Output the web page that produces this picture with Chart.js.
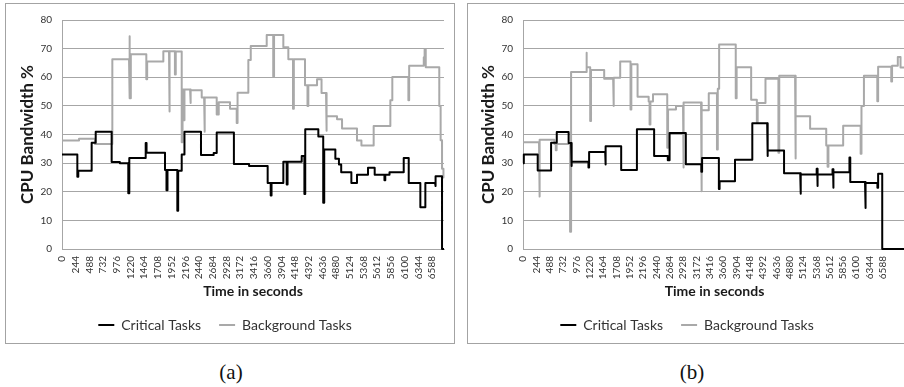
<!DOCTYPE html>
<html>
<head>
<meta charset="utf-8">
<script src="https://cdn.jsdelivr.net/npm/chart.js@4.4.1/dist/chart.umd.min.js"></script>
<style>
  html, body { margin: 0; padding: 0; background: #fff; }
  body { width: 904px; height: 387px; overflow: hidden; position: relative; }
  .panel { position: absolute; top: 3px; width: 448px; height: 339px; border: 1px solid #a3a3a3; }
  #panelA { left: 5px; }
  #panelB { left: 467px; }
  .caption { position: absolute; top: 359px; width: 60px; margin-left: -30px; text-align: center;
    font-family: "Liberation Serif", serif; font-size: 21px; line-height: 26px; color: #111; }
</style>
</head>
<body>
<div class="panel" id="panelA"><canvas id="chartA" width="448" height="339"></canvas></div>
<div class="panel" id="panelB"><canvas id="chartB" width="448" height="339"></canvas></div>
<div class="caption" style="left:231px">(a)</div>
<div class="caption" style="left:692px">(b)</div>
<script>
'use strict';

// tick labels on both axes
const timeTicks = [0, 244, 488, 732, 976, 1220, 1464, 1708, 1952, 2196, 2440, 2684, 2928, 3172,
  3416, 3660, 3904, 4148, 4392, 4636, 4880, 5124, 5368, 5612, 5856, 6100, 6344, 6588];
const bandwidthTicks = [0, 10, 20, 30, 40, 50, 60, 70, 80];

// panel (a): time (s) where each level starts, and the level (%)
const critTimesA = [0, 273, 290, 528, 600, 884, 1030, 1180, 1198, 1490,
  1505, 1834, 1860, 1878, 2053, 2068, 2131, 2180, 2474, 2700,
  2754, 3060, 3330, 3661, 3715, 3730, 3940, 4000, 4015, 4267,
  4315, 4330, 4563, 4650, 4668, 4866, 4930, 4970, 5151, 5251,
  5447, 5566, 5740, 5755, 5830, 6083, 6172, 6379, 6468, 6640,
  6655, 6765];
const critValuesA = [33.0, 25.2, 27.3, 37.1, 41.0, 30.4, 30.0, 19.5, 31.8, 37.0,
  33.6, 27.6, 20.5, 27.6, 13.4, 27.3, 33.0, 41.0, 32.8, 33.5,
  40.7, 29.7, 29.0, 23.1, 18.7, 23.1, 30.5, 22.5, 30.5, 32.5,
  19.2, 41.8, 39.3, 16.2, 34.8, 31.5, 29.5, 26.8, 23.1, 25.9,
  28.4, 25.9, 24.0, 25.9, 26.8, 31.8, 23.1, 14.6, 23.1, 22.0,
  25.4, 0];
const bgTimesA = [0, 303, 587, 896, 1193, 1210, 1225, 1501, 1516, 1804,
  1905, 1920, 2010, 2025, 2131, 2146, 2165, 2180, 2280, 2295,
  2487, 2530, 2545, 2754, 2790, 2991, 3110, 3125, 3317, 3360,
  3644, 3760, 3775, 3940, 4029, 4112, 4127, 4326, 4370, 4385,
  4540, 4620, 4700, 4715, 4896, 4985, 5251, 5330, 5548, 5845,
  5880, 6166, 6180, 6440, 6455, 6475, 6716, 6740, 6765, 6790];
const bgValuesA = [37.9, 38.5, 36.7, 66.3, 74.3, 52.7, 68.0, 59.3, 65.5, 69.1,
  48.0, 69.1, 61.0, 69.0, 37.3, 55.7, 45.0, 55.7, 51.0, 55.5,
  52.9, 41.0, 52.9, 47.0, 51.3, 49.0, 44.0, 54.6, 66.0, 70.9,
  74.8, 60.3, 74.8, 70.5, 66.3, 49.0, 66.3, 57.2, 50.0, 57.2,
  59.3, 54.5, 41.3, 46.4, 45.3, 42.1, 37.9, 36.2, 43.0, 52.0,
  60.1, 52.0, 64.0, 67.0, 69.7, 63.5, 50.0, 38.0, 28.0, 25.0];

// panel (b)
const critTimesB = [0, 15, 269, 514, 618, 835, 880, 895, 1198, 1210,
  1504, 1516, 1797, 2085, 2400, 2650, 2683, 2980, 3264, 3278,
  3585, 3598, 3880, 4197, 4469, 4483, 4778, 5074, 5088, 5375,
  5385, 5395, 5665, 5675, 5685, 5975, 5990, 6260, 6275, 6487,
  6500, 6575];
const critValuesB = [30.0, 33.0, 27.4, 37.1, 40.9, 37.0, 29.0, 30.5, 28.5, 33.9,
  29.5, 35.9, 27.6, 41.8, 32.5, 31.0, 40.5, 29.6, 27.0, 31.8,
  21.0, 23.7, 31.2, 43.9, 32.5, 34.4, 26.5, 19.3, 26.0, 28.0,
  22.0, 26.0, 27.9, 21.4, 26.8, 32.0, 23.4, 14.3, 23.1, 21.4,
  26.3, 0];
const bgTimesB = [0, 293, 310, 575, 600, 615, 862, 880, 1155, 1170,
  1230, 1245, 1486, 1650, 1665, 1779, 1968, 1983, 2097, 2300,
  2317, 2332, 2379, 2640, 2655, 2800, 2929, 2944, 3259, 3275,
  3400, 3550, 3565, 3590, 3894, 3910, 4176, 4280, 4295, 4438,
  4675, 4690, 4980, 4995, 5255, 5550, 5575, 5590, 5860, 6180,
  6195, 6240, 6485, 6500, 6740, 6755, 6860, 6910];
const bgValuesB = [37.3, 18.3, 38.2, 36.7, 34.5, 36.7, 6.0, 61.8, 68.6, 63.5,
  44.7, 62.5, 59.5, 50.0, 59.8, 65.5, 48.7, 64.5, 53.2, 51.5,
  43.5, 51.5, 54.1, 35.4, 48.7, 50.0, 28.5, 51.2, 20.2, 48.5,
  54.4, 34.8, 56.0, 71.4, 52.7, 63.5, 52.1, 44.3, 51.0, 59.5,
  33.6, 60.5, 31.6, 46.4, 42.0, 36.2, 28.7, 36.2, 43.1, 33.3,
  50.0, 60.5, 51.6, 63.7, 58.5, 64.0, 67.1, 63.4];

const FONT = 'Lato, "Open Sans", sans-serif';

// turn level-start lists into points with vertical edges
function stepPoints(times, values, endTime) {
  let pts = [];
  for (let i = 0; i < times.length; i++) {
    if (i > 0) pts.push({x: times[i], y: values[i - 1]});
    pts.push({x: times[i], y: values[i]});
  }
  pts.push({x: endTime, y: values[values.length - 1]});
  return pts;
}

function drawPanel(canvasId, critT, critV, bgT, bgV, endTime, axisWidth, titlePad) {
  const canvasEl = document.getElementById(canvasId);
  return new Chart(canvasEl, {
    type: 'line',
    data: {
      datasets: [{
        label: 'Critical Tasks',
        data: stepPoints(critT, critV, endTime),
        borderColor: '#000000',
        backgroundColor: '#000000',
        borderWidth: 2,
        borderJoinStyle: 'round',
        pointRadius: 0,
        tension: 0,
        clip: 3
      }, {
        label: 'Background Tasks',
        data: stepPoints(bgT, bgV, endTime),
        borderColor: '#a9a9a9',
        backgroundColor: '#a9a9a9',
        borderWidth: 2,
        borderJoinStyle: 'round',
        pointRadius: 0,
        tension: 0,
        clip: 3
      }]
    },
    options: {
      responsive: false,
      animation: false,
      layout: { padding: { left: 0, right: 10, top: 11, bottom: 1 } },
      plugins: {
        tooltip: { enabled: false },
        legend: {
          position: 'bottom',
          labels: {
            usePointStyle: true,
            pointStyle: 'line',
            pointStyleWidth: 16,
            padding: 18,
            color: '#333',
            font: { family: FONT, size: 14 }
          }
        }
      },
      scales: {
        x: {
          type: 'linear',
          min: 0,
          max: endTime,
          afterBuildTicks: s => { s.ticks = timeTicks.map(v => ({value: v})); },
          afterFit: s => { s.height = 51; },
          grid: { display: false, drawTicks: false },
          border: { display: true, color: '#a6a6a6' },
          ticks: {
            autoSkip: false, minRotation: 90, maxRotation: 90, padding: 7,
            color: '#333', font: { family: FONT, size: 10 },
            callback: v => String(v)
          },
          title: {
            display: true, text: 'Time in seconds', color: '#1a1a1a',
            padding: { top: 0, bottom: 0 },
            font: { family: FONT, size: 14, weight: 'bold' }
          }
        },
        y: {
          min: 0,
          max: 80,
          afterBuildTicks: s => { s.ticks = bandwidthTicks.map(v => ({value: v})); },
          afterFit: s => { s.width = axisWidth; },
          grid: { color: '#a6a6a6', drawTicks: false },
          border: { display: true, color: '#a6a6a6' },
          ticks: { padding: 10, color: '#333', font: { family: FONT, size: 10 } },
          title: {
            display: true, text: 'CPU Bandwidth %', color: '#1a1a1a',
            padding: { top: titlePad, bottom: 0 },
            font: { family: FONT, size: 17, weight: 'bold' }
          }
        }
      }
    }
  });
}

drawPanel('chartA', critTimesA, critValuesA, bgTimesA, bgValuesA, 6800, 56, 11);
drawPanel('chartB', critTimesB, critValuesB, bgTimesB, bgValuesB, 7010, 55, 10);
</script>
</body>
</html>
